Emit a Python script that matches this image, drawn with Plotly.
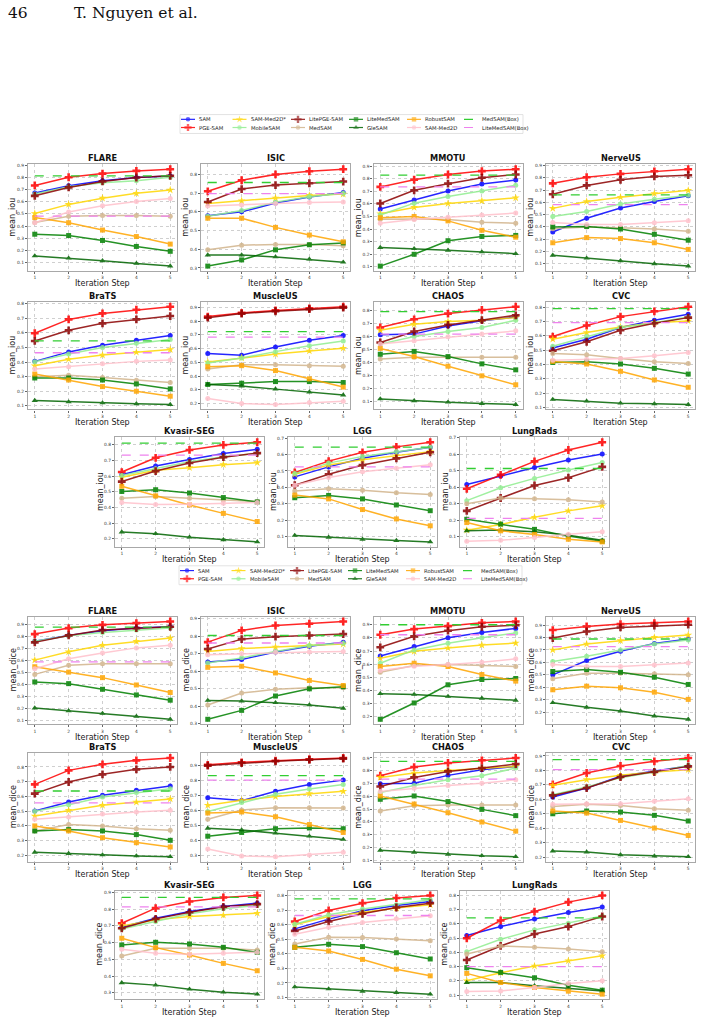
import plotly.graph_objects as go

W, H = 702, 1024

steps = [1, 2, 3, 4, 5]
methods = ["SAM", "PGE-SAM", "SAM-Med2D*", "MobileSAM", "LitePGE-SAM",
           "MedSAM", "LiteMedSAM", "GleSAM", "RobustSAM", "SAM-Med2D"]
colors = ["#0000ff", "#ff0000", "#ffd700", "#90ee90", "#8b0000",
          "#d2b48c", "#008000", "#006400", "#ffa500", "#ffc0cb"]
symbols = ["circle", "cross", "star", "circle", "cross",
           "circle", "square", "triangle-up", "square", "circle"]
box_methods = ["MedSAM(Box)", "LiteMedSAM(Box)"]
box_colors = ["#32cd32", "#ee82ee"]
datasets = ["FLARE", "ISIC", "MMOTU", "NerveUS", "BraTS", "MuscleUS",
            "CHAOS", "CVC", "Kvasir-SEG", "LGG", "LungRads"]

# ---------------- mean IoU (rows follow `methods` order) ----------------
iou_flare = [[0.672, 0.731, 0.771, 0.798, 0.811], [0.733, 0.800, 0.830, 0.852, 0.866],
             [0.503, 0.578, 0.629, 0.669, 0.696], [0.664, 0.723, 0.755, 0.771, 0.800],
             [0.648, 0.717, 0.766, 0.798, 0.812], [0.430, 0.480, 0.487, 0.487, 0.480],
             [0.334, 0.323, 0.283, 0.234, 0.194], [0.156, 0.138, 0.116, 0.095, 0.073],
             [0.470, 0.428, 0.368, 0.315, 0.253], [0.428, 0.516, 0.567, 0.602, 0.626]]
iou_flare_box = [0.811, 0.482]
iou_isic = [[0.579, 0.600, 0.647, 0.679, 0.703], [0.710, 0.769, 0.800, 0.817, 0.828],
            [0.645, 0.659, 0.674, 0.688, 0.695], [0.576, 0.607, 0.652, 0.681, 0.700],
            [0.653, 0.722, 0.743, 0.753, 0.762], [0.397, 0.422, 0.426, 0.426, 0.419],
            [0.310, 0.343, 0.397, 0.424, 0.434], [0.369, 0.369, 0.359, 0.347, 0.331],
            [0.566, 0.566, 0.517, 0.476, 0.440], [0.631, 0.636, 0.645, 0.650, 0.653]]
iou_isic_box = [0.757, 0.697]
iou_mmotu = [[0.559, 0.630, 0.703, 0.758, 0.790], [0.735, 0.792, 0.834, 0.861, 0.876],
             [0.522, 0.572, 0.603, 0.624, 0.648], [0.512, 0.606, 0.659, 0.703, 0.748],
             [0.603, 0.708, 0.761, 0.808, 0.834], [0.477, 0.480, 0.475, 0.454, 0.446],
             [0.105, 0.199, 0.307, 0.341, 0.349], [0.252, 0.244, 0.231, 0.218, 0.204],
             [0.490, 0.500, 0.465, 0.390, 0.335], [0.446, 0.475, 0.493, 0.512, 0.527]]
iou_mmotu_box = [0.829, 0.735]
iou_nerveus = [[0.359, 0.471, 0.554, 0.607, 0.653], [0.755, 0.805, 0.832, 0.853, 0.870],
               [0.551, 0.607, 0.642, 0.672, 0.698], [0.484, 0.525, 0.586, 0.626, 0.658],
               [0.666, 0.738, 0.784, 0.811, 0.821], [0.386, 0.400, 0.394, 0.383, 0.364],
               [0.400, 0.404, 0.383, 0.340, 0.292], [0.169, 0.145, 0.124, 0.100, 0.081],
               [0.271, 0.313, 0.305, 0.271, 0.217], [0.436, 0.420, 0.420, 0.434, 0.450]]
iou_nerveus_box = [0.661, 0.581]
iou_brats = [[0.405, 0.470, 0.516, 0.550, 0.582], [0.598, 0.693, 0.734, 0.759, 0.780],
             [0.375, 0.420, 0.448, 0.468, 0.486], [0.402, 0.455, 0.500, 0.530, 0.555],
             [0.545, 0.618, 0.666, 0.693, 0.716], [0.300, 0.310, 0.295, 0.275, 0.260],
             [0.291, 0.291, 0.277, 0.250, 0.216], [0.136, 0.127, 0.120, 0.114, 0.109],
             [0.318, 0.277, 0.232, 0.200, 0.166], [0.352, 0.368, 0.389, 0.405, 0.414]]
iou_brats_box = [0.545, 0.464]
iou_muscleus = [[0.564, 0.552, 0.612, 0.660, 0.696], [0.833, 0.860, 0.878, 0.893, 0.905],
                [0.502, 0.533, 0.560, 0.583, 0.603], [0.495, 0.532, 0.578, 0.620, 0.655],
                [0.825, 0.855, 0.872, 0.887, 0.898], [0.452, 0.483, 0.483, 0.476, 0.471],
                [0.339, 0.348, 0.360, 0.360, 0.353], [0.339, 0.327, 0.305, 0.284, 0.262],
                [0.468, 0.476, 0.440, 0.380, 0.320], [0.236, 0.200, 0.193, 0.207, 0.217]]
iou_muscleus_box = [0.723, 0.684]
iou_chaos = [[0.612, 0.617, 0.680, 0.719, 0.749], [0.668, 0.731, 0.775, 0.803, 0.828],
             [0.647, 0.693, 0.714, 0.724, 0.744], [0.540, 0.599, 0.637, 0.668, 0.724],
             [0.553, 0.637, 0.688, 0.724, 0.762], [0.426, 0.439, 0.439, 0.439, 0.439],
             [0.462, 0.484, 0.444, 0.388, 0.342], [0.118, 0.103, 0.093, 0.082, 0.075],
             [0.507, 0.444, 0.370, 0.296, 0.227], [0.540, 0.566, 0.596, 0.617, 0.642]]
iou_chaos_box = [0.790, 0.617]
iou_cvc = [[0.514, 0.576, 0.657, 0.708, 0.749], [0.594, 0.671, 0.733, 0.770, 0.802],
           [0.576, 0.622, 0.661, 0.691, 0.703], [0.527, 0.594, 0.657, 0.691, 0.731],
           [0.495, 0.558, 0.638, 0.687, 0.726], [0.477, 0.467, 0.442, 0.419, 0.407],
           [0.414, 0.419, 0.403, 0.373, 0.333], [0.156, 0.144, 0.130, 0.126, 0.121],
           [0.421, 0.403, 0.352, 0.292, 0.241], [0.430, 0.437, 0.442, 0.460, 0.484]]
iou_cvc_box = [0.788, 0.691]
iou_kvasir = [[0.610, 0.666, 0.707, 0.746, 0.772], [0.627, 0.718, 0.768, 0.800, 0.817],
              [0.594, 0.638, 0.655, 0.674, 0.687], [0.605, 0.648, 0.692, 0.724, 0.746],
              [0.566, 0.633, 0.685, 0.722, 0.748], [0.460, 0.471, 0.460, 0.449, 0.439],
              [0.503, 0.514, 0.493, 0.464, 0.436], [0.244, 0.233, 0.211, 0.194, 0.181],
              [0.536, 0.475, 0.417, 0.363, 0.311], [0.432, 0.419, 0.421, 0.428, 0.432]]
iou_kvasir_box = [0.812, 0.735]
iou_lgg = [[0.464, 0.525, 0.577, 0.614, 0.645], [0.491, 0.560, 0.614, 0.647, 0.675],
           [0.480, 0.536, 0.569, 0.593, 0.618], [0.484, 0.548, 0.589, 0.618, 0.645],
           [0.413, 0.480, 0.536, 0.577, 0.614], [0.378, 0.392, 0.382, 0.367, 0.357],
           [0.337, 0.351, 0.330, 0.293, 0.258], [0.107, 0.096, 0.084, 0.076, 0.068],
           [0.353, 0.330, 0.265, 0.208, 0.166], [0.413, 0.460, 0.495, 0.517, 0.538]]
iou_lgg_box = [0.645, 0.525]
iou_lungrads = [[0.417, 0.468, 0.520, 0.565, 0.602], [0.391, 0.475, 0.557, 0.626, 0.673],
                [0.140, 0.175, 0.218, 0.257, 0.288], [0.319, 0.397, 0.454, 0.505, 0.550],
                [0.257, 0.335, 0.411, 0.458, 0.524], [0.300, 0.335, 0.331, 0.325, 0.311],
                [0.206, 0.177, 0.145, 0.104, 0.073], [0.136, 0.141, 0.130, 0.110, 0.079],
                [0.186, 0.136, 0.114, 0.085, 0.069], [0.073, 0.079, 0.095, 0.116, 0.130]]
iou_lungrads_box = [0.514, 0.212]

# ---------------- mean Dice ----------------
dice_flare = [[0.757, 0.806, 0.845, 0.867, 0.878], [0.817, 0.867, 0.894, 0.908, 0.922],
              [0.600, 0.669, 0.724, 0.757, 0.784], [0.757, 0.804, 0.831, 0.850, 0.867],
              [0.748, 0.806, 0.850, 0.867, 0.878], [0.481, 0.558, 0.569, 0.569, 0.569],
              [0.418, 0.404, 0.357, 0.310, 0.266], [0.200, 0.178, 0.156, 0.131, 0.107],
              [0.545, 0.500, 0.454, 0.393, 0.330], [0.528, 0.611, 0.660, 0.702, 0.724]]
dice_flare_box = [0.875, 0.586]
dice_isic = [[0.654, 0.667, 0.711, 0.743, 0.766], [0.767, 0.834, 0.862, 0.872, 0.885],
             [0.714, 0.730, 0.739, 0.747, 0.756], [0.648, 0.677, 0.714, 0.747, 0.760],
             [0.728, 0.784, 0.798, 0.805, 0.813], [0.408, 0.476, 0.497, 0.506, 0.506],
             [0.326, 0.377, 0.459, 0.500, 0.512], [0.434, 0.430, 0.421, 0.408, 0.389],
             [0.623, 0.629, 0.591, 0.548, 0.519], [0.695, 0.701, 0.709, 0.711, 0.714]]
dice_isic_box = [0.805, 0.762]
dice_mmotu = [[0.663, 0.734, 0.802, 0.842, 0.872], [0.824, 0.867, 0.890, 0.915, 0.925],
              [0.646, 0.698, 0.724, 0.746, 0.761], [0.608, 0.709, 0.759, 0.802, 0.837],
              [0.729, 0.812, 0.855, 0.885, 0.897], [0.540, 0.590, 0.598, 0.590, 0.583],
              [0.182, 0.306, 0.444, 0.484, 0.492], [0.376, 0.371, 0.356, 0.341, 0.326],
              [0.583, 0.608, 0.583, 0.522, 0.472], [0.552, 0.585, 0.598, 0.615, 0.641]]
dice_mmotu_box = [0.900, 0.824]
dice_nerveus = [[0.500, 0.615, 0.689, 0.753, 0.788], [0.860, 0.889, 0.908, 0.916, 0.929],
                [0.700, 0.748, 0.775, 0.801, 0.820], [0.607, 0.649, 0.700, 0.748, 0.780],
                [0.796, 0.849, 0.881, 0.895, 0.903], [0.468, 0.513, 0.513, 0.508, 0.500],
                [0.527, 0.543, 0.521, 0.481, 0.423], [0.276, 0.239, 0.209, 0.169, 0.143],
                [0.380, 0.409, 0.396, 0.361, 0.303], [0.583, 0.567, 0.567, 0.580, 0.596]]
dice_nerveus_box = [0.788, 0.727]
dice_brats = [[0.501, 0.562, 0.608, 0.642, 0.671], [0.682, 0.777, 0.818, 0.845, 0.861],
              [0.467, 0.506, 0.540, 0.562, 0.583], [0.499, 0.544, 0.596, 0.626, 0.653],
              [0.619, 0.698, 0.750, 0.784, 0.800], [0.366, 0.410, 0.400, 0.381, 0.370],
              [0.366, 0.375, 0.366, 0.341, 0.302], [0.221, 0.212, 0.203, 0.196, 0.191],
              [0.400, 0.366, 0.320, 0.286, 0.257], [0.445, 0.461, 0.480, 0.495, 0.506]]
dice_brats_box = [0.637, 0.556]
dice_muscleus = [[0.687, 0.668, 0.730, 0.775, 0.805], [0.907, 0.924, 0.935, 0.945, 0.953],
                 [0.637, 0.670, 0.695, 0.715, 0.730], [0.595, 0.655, 0.710, 0.745, 0.775],
                 [0.902, 0.919, 0.931, 0.941, 0.949], [0.543, 0.605, 0.620, 0.620, 0.618],
                 [0.430, 0.455, 0.480, 0.485, 0.480], [0.483, 0.472, 0.450, 0.430, 0.408],
                 [0.585, 0.592, 0.560, 0.508, 0.455], [0.345, 0.298, 0.293, 0.305, 0.322]]
dice_muscleus_box = [0.835, 0.805]
dice_chaos = [[0.698, 0.703, 0.764, 0.808, 0.834], [0.761, 0.829, 0.861, 0.882, 0.900],
              [0.748, 0.782, 0.803, 0.821, 0.834], [0.630, 0.685, 0.729, 0.761, 0.821],
              [0.677, 0.748, 0.795, 0.821, 0.853], [0.485, 0.527, 0.533, 0.533, 0.533],
              [0.577, 0.603, 0.559, 0.498, 0.449], [0.178, 0.162, 0.147, 0.136, 0.128],
              [0.603, 0.540, 0.472, 0.399, 0.328], [0.638, 0.664, 0.685, 0.703, 0.729]]
dice_chaos_box = [0.874, 0.735]
dice_cvc = [[0.616, 0.678, 0.759, 0.794, 0.831], [0.704, 0.782, 0.831, 0.863, 0.886],
            [0.697, 0.736, 0.766, 0.789, 0.805], [0.632, 0.685, 0.750, 0.789, 0.835],
            [0.627, 0.678, 0.754, 0.789, 0.828], [0.551, 0.565, 0.558, 0.535, 0.524],
            [0.500, 0.519, 0.512, 0.489, 0.450], [0.242, 0.235, 0.216, 0.207, 0.203],
            [0.519, 0.505, 0.454, 0.401, 0.350], [0.565, 0.570, 0.570, 0.586, 0.604]]
dice_cvc_box = [0.875, 0.805]
dice_kvasir = [[0.692, 0.746, 0.786, 0.816, 0.836], [0.716, 0.806, 0.846, 0.870, 0.882],
               [0.700, 0.736, 0.756, 0.764, 0.776], [0.682, 0.726, 0.772, 0.802, 0.822],
               [0.686, 0.742, 0.782, 0.814, 0.830], [0.520, 0.566, 0.566, 0.566, 0.556],
               [0.586, 0.602, 0.592, 0.572, 0.542], [0.360, 0.346, 0.322, 0.304, 0.292],
               [0.626, 0.570, 0.526, 0.476, 0.432], [0.560, 0.536, 0.530, 0.536, 0.542]]
dice_kvasir_box = [0.870, 0.814]
dice_lgg = [[0.572, 0.639, 0.696, 0.733, 0.761], [0.623, 0.699, 0.749, 0.784, 0.802],
            [0.600, 0.657, 0.685, 0.715, 0.738], [0.604, 0.669, 0.708, 0.738, 0.772],
            [0.558, 0.623, 0.676, 0.719, 0.749], [0.468, 0.514, 0.512, 0.503, 0.491],
            [0.445, 0.466, 0.450, 0.408, 0.365], [0.173, 0.159, 0.143, 0.134, 0.123],
            [0.445, 0.420, 0.362, 0.295, 0.249], [0.535, 0.583, 0.616, 0.641, 0.662]]
dice_lgg_box = [0.779, 0.664]
dice_lungrads = [[0.518, 0.581, 0.635, 0.680, 0.718], [0.499, 0.624, 0.687, 0.753, 0.800],
                 [0.200, 0.256, 0.304, 0.341, 0.376], [0.405, 0.492, 0.558, 0.605, 0.656],
                 [0.346, 0.445, 0.529, 0.581, 0.652], [0.388, 0.445, 0.435, 0.424, 0.405],
                 [0.292, 0.259, 0.221, 0.169, 0.134], [0.188, 0.188, 0.165, 0.146, 0.129],
                 [0.252, 0.188, 0.153, 0.127, 0.106], [0.125, 0.129, 0.153, 0.181, 0.200]]
dice_lungrads_box = [0.642, 0.300]

iou_sets = [iou_flare, iou_isic, iou_mmotu, iou_nerveus, iou_brats, iou_muscleus,
            iou_chaos, iou_cvc, iou_kvasir, iou_lgg, iou_lungrads]
iou_boxes = [iou_flare_box, iou_isic_box, iou_mmotu_box, iou_nerveus_box, iou_brats_box,
             iou_muscleus_box, iou_chaos_box, iou_cvc_box, iou_kvasir_box, iou_lgg_box,
             iou_lungrads_box]
dice_sets = [dice_flare, dice_isic, dice_mmotu, dice_nerveus, dice_brats, dice_muscleus,
             dice_chaos, dice_cvc, dice_kvasir, dice_lgg, dice_lungrads]
dice_boxes = [dice_flare_box, dice_isic_box, dice_mmotu_box, dice_nerveus_box,
              dice_brats_box, dice_muscleus_box, dice_chaos_box, dice_cvc_box,
              dice_kvasir_box, dice_lgg_box, dice_lungrads_box]

# ---------------- layout geometry (pixels) ----------------
cols4 = [28, 201, 373.5, 546]
cols3 = [115, 288, 460]
AX_W = 149
groups = [
    dict(sets=iou_sets, boxes=iou_boxes, ylabel="mean_iou",
         rows=[(163, 270), (301, 409), (437, 547)], legend=(180, 113, 523, 132)),
    dict(sets=dice_sets, boxes=dice_boxes, ylabel="mean_dice",
         rows=[(617, 725), (754, 863), (892, 1001)], legend=(179, 566, 522, 585)),
]

def px(x):
    return x / W

def py(y):
    return 1 - y / H

def msize(sym):
    return {"cross": 6.5, "star": 6, "triangle-up": 5.5}.get(sym, 5)

FONT = "DejaVu Sans"
fig = go.Figure()
layout = {}
annotations = []
shapes = []

def axis_name(k, kind):
    return kind if k == 1 else f"{kind}{k}"

k = 0
for g in groups:
    for i, name in enumerate(datasets):
        k += 1
        if i < 8:
            left = cols4[i % 4]
            top, bot = g["rows"][i // 4]
        else:
            left = cols3[i - 8]
            top, bot = g["rows"][2]
        right = left + AX_W
        series = g["sets"][i]
        box = g["boxes"][i]
        allv = [v for s in series for v in s] + list(box)
        lo, hi = min(allv), max(allv)
        pad = 0.05 * (hi - lo)
        xa = "x" if k == 1 else f"x{k}"
        ya = "y" if k == 1 else f"y{k}"
        for m, vals in enumerate(series):
            fig.add_trace(go.Scatter(
                x=steps, y=vals, mode="lines+markers", name=methods[m],
                line=dict(color=colors[m], width=1.5),
                marker=dict(symbol=symbols[m], size=msize(symbols[m]),
                            color=colors[m], line=dict(width=0)),
                opacity=0.85, xaxis=xa, yaxis=ya, showlegend=False))
        for b, v in enumerate(box):
            fig.add_trace(go.Scatter(
                x=steps, y=[v] * len(steps), mode="lines", name=box_methods[b],
                line=dict(color=box_colors[b], width=1.3, dash="dash"),
                xaxis=xa, yaxis=ya, showlegend=False))
        common = dict(showgrid=True, gridcolor="#cfcfcf", griddash="dot", gridwidth=0.8,
                      showline=True, linecolor="#a8a8a8", linewidth=1.3, mirror=True,
                      ticks="outside", ticklen=2, tickwidth=0.6, tickcolor="#666",
                      tickfont=dict(family=FONT, size=4.4, color="#333"), zeroline=False)
        layout[axis_name(k, "xaxis")] = dict(
            domain=[px(left), px(right)], range=[0.8, 5.2], tickvals=steps,
            anchor=ya, **common)
        layout[axis_name(k, "yaxis")] = dict(
            domain=[py(bot), py(top)], range=[lo - pad, hi + pad], dtick=0.1,
            tick0=0, tickformat=".1f", anchor=xa, **common)
        cx = (left + right) / 2
        annotations.append(dict(x=px(cx), y=py(top - 6), xref="paper", yref="paper",
                                text=f"<b>{name}</b>", showarrow=False, xanchor="center",
                                yanchor="middle", font=dict(family=FONT, size=8.2, color="#111")))
        annotations.append(dict(x=px(cx), y=py(bot + 13), xref="paper", yref="paper",
                                text="Iteration Step", showarrow=False, xanchor="center",
                                yanchor="middle", font=dict(family=FONT, size=8, color="#222")))
        annotations.append(dict(x=px(left - 15), y=py((top + bot) / 2), xref="paper",
                                yref="paper", text=g["ylabel"], textangle=-90,
                                showarrow=False, xanchor="center", yanchor="middle",
                                font=dict(family=FONT, size=8, color="#222")))

# ---------------- hand-built legends (6 columns, column-major) ----------------
leg_names = methods + box_methods
leg_colors = colors + box_colors
leg_symbols = symbols + [None, None]
col_off = [0, 51.5, 110, 168, 226, 283]
row_off = [4.8, 13.0]
for g in groups:
    k += 1
    x0, y0, x1, y1 = g["legend"]
    xa = f"x{k}"
    ya = f"y{k}"
    layout[axis_name(k, "xaxis")] = dict(domain=[px(x0), px(x1)], range=[0, x1 - x0],
                                         visible=False, anchor=ya)
    layout[axis_name(k, "yaxis")] = dict(domain=[py(y1), py(y0)], range=[y1 - y0, 0],
                                         visible=False, anchor=xa)
    shapes.append(dict(type="rect", xref="paper", yref="paper", x0=px(x0), x1=px(x1),
                       y0=py(y1), y1=py(y0), line=dict(color="#dcdcdc", width=0.8),
                       fillcolor="rgba(0,0,0,0)"))
    for j, nm in enumerate(leg_names):
        c = j // 2
        r = j % 2
        lx = col_off[c] + 1
        ly = row_off[r]
        if leg_symbols[j] is None:
            fig.add_trace(go.Scatter(x=[lx, lx + 14], y=[ly, ly], mode="lines",
                                     line=dict(color=leg_colors[j], width=1.2, dash="dash"),
                                     xaxis=xa, yaxis=ya, showlegend=False, hoverinfo="skip"))
        else:
            fig.add_trace(go.Scatter(x=[lx, lx + 7, lx + 14], y=[ly, ly, ly], mode="lines+markers",
                                     line=dict(color=leg_colors[j], width=1.2),
                                     marker=dict(symbol=leg_symbols[j],
                                                 size=[0, msize(leg_symbols[j]) - 0.5, 0],
                                                 color=leg_colors[j], line=dict(width=0)),
                                     opacity=0.85, xaxis=xa, yaxis=ya, showlegend=False,
                                     hoverinfo="skip"))
        annotations.append(dict(x=lx + 16, y=ly, xref=xa, yref=ya, text=nm, showarrow=False,
                                xanchor="left", yanchor="middle",
                                font=dict(family=FONT, size=5.3, color="#222")))

# ---------------- page header ----------------
annotations.append(dict(x=px(6), y=py(11), xref="paper", yref="paper", text="46",
                        showarrow=False, xanchor="left", yanchor="middle",
                        font=dict(family="DejaVu Serif", size=15.5, color="#111")))
annotations.append(dict(x=px(72), y=py(11), xref="paper", yref="paper",
                        text="T. Nguyen et al.", showarrow=False, xanchor="left",
                        yanchor="middle",
                        font=dict(family="DejaVu Serif", size=15.5, color="#111")))

fig.update_layout(width=W, height=H, margin=dict(l=0, r=0, t=0, b=0),
                  paper_bgcolor="white", plot_bgcolor="white", showlegend=False,
                  annotations=annotations, shapes=shapes, **layout)
fig.write_html("out.html")
